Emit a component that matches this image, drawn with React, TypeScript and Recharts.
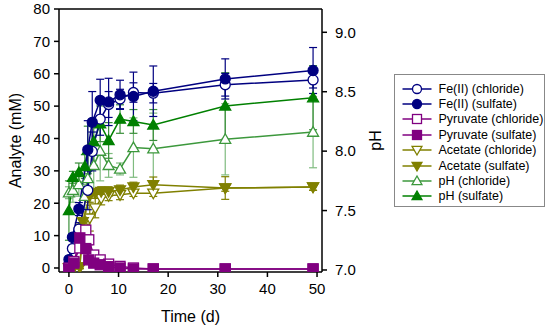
import { ErrorBar, Label, Legend, Line, LineChart, ReferenceLine, XAxis, YAxis } from "recharts";

// sampling times (d) per analyte group
const FE_TIME = [0, 0.7, 2, 3.8, 4.7, 6.3, 8, 10.3, 13, 17, 31.5, 49.2];
const PYR_TIME = [0, 1, 2.2, 3.4, 4, 5, 6.3, 8, 10.3, 13, 17, 31.5, 49.2];
const ACE_TIME = [0, 1, 2.2, 2.8, 4.2, 5.3, 6.5, 8, 10.3, 13, 17, 31.5, 49.2];
const PH_TIME = [0, 0.8, 2, 3.2, 3.8, 5, 6.3, 8, 10.3, 13, 17, 31.5, 49.2];

// Fe(II), mM
const FE_CHLORIDE = [1, 6, 12, 24, 36, 46, 50.5, 52.2, 54.2, 54, 56.6, 58.1];
const FE_CHLORIDE_ERR = [0.5, 1, 2, 6, 6, 5, 4, 3, 3, 3, 3.5, 2.5];
const FE_SULFATE = [2.6, 9.5, 18.2, 36.5, 45, 51.8, 51.3, 53.5, 53, 54.6, 58.4, 61];
const FE_SULFATE_ERR = [0.5, 1, 2, 9, 9.5, 6.5, 7.3, 4.5, 7.5, 7.8, 6.2, 7.1];

// pyruvate, mM
const PYR_CHLORIDE = [0, 2, 6.2, 11.7, 8.7, 4, 2.5, 1.2, 0.5, 0, -0.3, -0.3, -0.3];
const PYR_CHLORIDE_ERR = [0.3, 0.5, 1, 1.5, 1.5, 1, 0.8, 0.5, 0.3, 0.2, 0.2, 0.2, 0.2];
const PYR_SULFATE = [-0.3, 1.5, 9.3, 6, 2.5, 1.5, 1, 0.4, 0, -0.3, -0.3, -0.3, -0.3];
const PYR_SULFATE_ERR = [0.3, 0.5, 1.5, 1.5, 1, 0.8, 0.5, 0.3, 0.2, 0.2, 0.2, 0.2, 0.2];

// acetate, mM
const ACE_CHLORIDE = [0, 0.2, 0.3, 12.3, 15.4, 18.5, 21.5, 22.3, 22.6, 23.1, 23.1, 24.7, 25];
const ACE_CHLORIDE_ERR = [0, 0, 0.5, 3, 4, 3, 2, 1.5, 1.5, 1, 1, 1, 1];
const ACE_SULFATE = [0, 0.2, 0.3, 14.3, 22.3, 23.1, 23.6, 23.6, 24.1, 25, 25.7, 24.7, 25];
const ACE_SULFATE_ERR = [0, 0, 0.5, 3, 2, 1.5, 1.5, 1.5, 1.5, 1.5, 2.4, 3.5, 1];

// pH
const PH_CHLORIDE = [7.65, 7.67, 7.72, 7.62, 7.77, 7.88, 8.0, 7.88, 7.85, 8.03, 8.02, 8.1, 8.16];
const PH_CHLORIDE_ERR = [0.05, 0.1, 0.1, 0.1, 0.2, 0.2, 0.25, 0.1, 0.05, 0.25, 0.3, 0.3, 0.3];
const PH_SULFATE = [7.5, 7.78, 7.82, 7.87, 8.01, 8.08, 8.23, 8.09, 8.27, 8.25, 8.22, 8.38, 8.45];
const PH_SULFATE_ERR = [0.25, 0.05, 0.08, 0.1, 0.2, 0.2, 0.15, 0.15, 0.12, 0.1, 0.13, 0.28, 0.27];

const X_TICKS = [0, 10, 20, 30, 40, 50];
const LEFT_TICKS = [0, 10, 20, 30, 40, 50, 60, 70, 80];
const RIGHT_TICKS = [7, 7.5, 8, 8.5, 9];

const NAVY = "#000080";
const PURPLE = "#800080";
const OLIVE = "#808000";
const GREEN = "#008000";
const LIGHT_GREEN = "#3c983c";

type Shape = "circle" | "square" | "up" | "down";

type Series = {
  name: string;
  axis: "left" | "right";
  time: number[];
  values: number[];
  err: number[];
  color: string;
  errColor: string;
  shape: Shape;
  open: boolean;
};

// listed in legend order
const SERIES: Series[] = [
  { name: "Fe(II) (chloride)", axis: "left", time: FE_TIME, values: FE_CHLORIDE, err: FE_CHLORIDE_ERR, color: NAVY, errColor: NAVY, shape: "circle", open: true },
  { name: "Fe(II) (sulfate)", axis: "left", time: FE_TIME, values: FE_SULFATE, err: FE_SULFATE_ERR, color: NAVY, errColor: NAVY, shape: "circle", open: false },
  { name: "Pyruvate (chloride)", axis: "left", time: PYR_TIME, values: PYR_CHLORIDE, err: PYR_CHLORIDE_ERR, color: PURPLE, errColor: PURPLE, shape: "square", open: true },
  { name: "Pyruvate (sulfate)", axis: "left", time: PYR_TIME, values: PYR_SULFATE, err: PYR_SULFATE_ERR, color: PURPLE, errColor: PURPLE, shape: "square", open: false },
  { name: "Acetate (chloride)", axis: "left", time: ACE_TIME, values: ACE_CHLORIDE, err: ACE_CHLORIDE_ERR, color: OLIVE, errColor: OLIVE, shape: "down", open: true },
  { name: "Acetate (sulfate)", axis: "left", time: ACE_TIME, values: ACE_SULFATE, err: ACE_SULFATE_ERR, color: OLIVE, errColor: OLIVE, shape: "down", open: false },
  { name: "pH (chloride)", axis: "right", time: PH_TIME, values: PH_CHLORIDE, err: PH_CHLORIDE_ERR, color: LIGHT_GREEN, errColor: "#7fbb7f", shape: "up", open: true },
  { name: "pH (sulfate)", axis: "right", time: PH_TIME, values: PH_SULFATE, err: PH_SULFATE_ERR, color: GREEN, errColor: "#3a8f3a", shape: "up", open: false },
];

// bottom to top
const DRAW_ORDER = [6, 7, 4, 5, 0, 1, 2, 3];

const FONT = "'Liberation Sans', Arial, sans-serif";

function Marker({ cx, cy, shape, color, open, size = 5 }: { cx: number; cy: number; shape: Shape; color: string; open: boolean; size?: number }) {
  const style = { fill: open ? "#fff" : color, stroke: color, strokeWidth: 1.3 };
  if (shape === "circle") return <circle cx={cx} cy={cy} r={size} {...style} />;
  if (shape === "square") return <rect x={cx - size} y={cy - size} width={size * 2} height={size * 2} {...style} />;
  const h = size * 1.1;
  if (shape === "up")
    return <polygon points={`${cx},${cy - h} ${cx - h},${cy + h * 0.75} ${cx + h},${cy + h * 0.75}`} {...style} />;
  return <polygon points={`${cx},${cy + h} ${cx - h},${cy - h * 0.75} ${cx + h},${cy - h * 0.75}`} {...style} />;
}

function LegendBox() {
  return (
    <div
      style={{
        width: 151,
        height: 133,
        boxSizing: "border-box",
        border: "1px solid #888",
        background: "#fff",
        paddingTop: 6,
        fontFamily: FONT,
        fontSize: 12.5,
        color: "#000",
      }}
    >
      {SERIES.map((s) => (
        <div key={s.name} style={{ display: "flex", alignItems: "center", height: 15.4 }}>
          <svg width={37} height={14} style={{ flex: "none" }}>
            <line x1={7.5} x2={36.5} y1={7} y2={7} stroke={s.color} strokeWidth={1.5} />
            <Marker cx={22} cy={7} shape={s.shape} color={s.color} open={s.open} size={4.5} />
          </svg>
          <span style={{ marginLeft: 6.5, whiteSpace: "nowrap" }}>{s.name}</span>
        </div>
      ))}
    </div>
  );
}

export default function App() {
  return (
    <div style={{ position: "absolute", left: 0, top: 0, width: 550, height: 332, background: "#fff" }}>
      <LineChart width={550} height={332} margin={{ top: 9, right: 0, bottom: 0, left: 0 }} style={{ fontFamily: FONT }}>
        <XAxis
          dataKey="t"
          type="number"
          domain={[-2, 51]}
          ticks={X_TICKS}
          allowDataOverflow
          height={60}
          stroke="#000"
          strokeWidth={1.5}
          tickSize={5}
          tickMargin={6}
          tick={{ fill: "#000", fontSize: 15 }}
        >
          <Label value="Time (d)" position="insideBottom" offset={10} style={{ fontSize: 16, fill: "#000" }} />
        </XAxis>
        <YAxis
          yAxisId="left"
          orientation="left"
          type="number"
          domain={[-1.24, 80]}
          ticks={LEFT_TICKS}
          allowDataOverflow
          width={59}
          stroke="#000"
          strokeWidth={1.5}
          tickSize={5}
          tickMargin={4}
          tick={{ fill: "#000", fontSize: 15 }}
        >
          <Label
            content={({ viewBox }: any) => {
              const x = viewBox.x + 21;
              const y = viewBox.y + viewBox.height / 2;
              return (
                <text x={x} y={y} transform={`rotate(-90, ${x}, ${y})`} textAnchor="middle" fontSize={16} fill="#000">
                  Analyte (mM)
                </text>
              );
            }}
          />
        </YAxis>
        <YAxis
          yAxisId="right"
          orientation="right"
          type="number"
          domain={[6.983, 9.196]}
          ticks={RIGHT_TICKS}
          allowDataOverflow
          width={228}
          stroke="#000"
          strokeWidth={1.5}
          tickSize={5}
          tickMargin={8}
          tickFormatter={(v: number) => v.toFixed(1)}
          tick={{ fill: "#000", fontSize: 15 }}
        >
          <Label
            content={({ viewBox }: any) => {
              const x = viewBox.x + 59;
              const y = viewBox.y + viewBox.height / 2;
              return (
                <text x={x} y={y} transform={`rotate(-90, ${x}, ${y})`} textAnchor="middle" fontSize={16} fill="#000">
                  pH
                </text>
              );
            }}
          />
        </YAxis>
        <ReferenceLine yAxisId="left" y={80} stroke="#000" strokeWidth={1.5} ifOverflow="extendDomain" />
        {DRAW_ORDER.map((i) => {
          const s = SERIES[i];
          const rows = s.time.map((t, k) => ({ t, v: s.values[k], err: s.err[k] }));
          return (
            <Line
              key={s.name}
              name={s.name}
              yAxisId={s.axis}
              data={rows}
              dataKey="v"
              type="linear"
              stroke={s.color}
              strokeWidth={1.5}
              isAnimationActive={false}
              activeDot={false}
              dot={(p: any) => (
                <Marker key={`${s.name}-${p.index}`} cx={p.cx} cy={p.cy} shape={s.shape} color={s.color} open={s.open} />
              )}
            >
              <ErrorBar dataKey="err" direction="y" width={4} stroke={s.errColor} strokeWidth={1.2} isAnimationActive={false} />
            </Line>
          );
        })}
        <Legend
          layout="horizontal"
          verticalAlign="middle"
          align="center"
          content={() => <LegendBox />}
          wrapperStyle={{ left: 394, top: 74, width: 151, height: 133 }}
        />
      </LineChart>
    </div>
  );
}
